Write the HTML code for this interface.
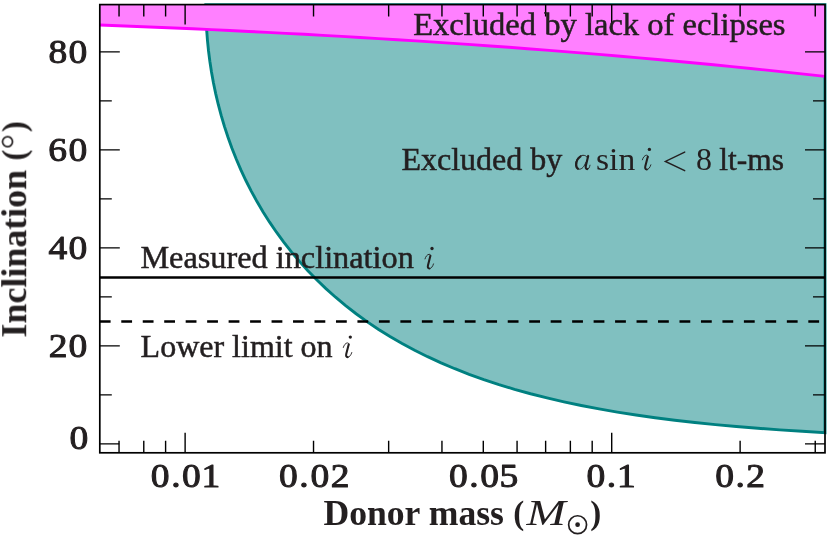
<!DOCTYPE html>
<html><head><meta charset="utf-8"><title>Inclination vs donor mass</title>
<style>
html,body{margin:0;padding:0;background:#fff;}
svg{display:block;}
text{font-family:"Liberation Serif",serif;fill:#231f20;}
</style></head>
<body>
<svg width="830" height="538" viewBox="0 0 830 538">
<defs>
<g id="gI" fill="none" stroke="#231f20" stroke-linecap="round" stroke-linejoin="round">
<circle cx="350.3" cy="337.1" r="1.65" fill="#231f20" stroke="none"/>
<path d="M343.3 347.5 C343.9 345.2 345.6 342.9 347.5 342.9 C348.7 342.9 349.2 343.8 348.9 345" stroke-width="0.9"/>
<path d="M348.7 344.4 L346.3 353.8 C345.8 355.9 346.3 357.1 347.7 357.1" stroke-width="2.05"/>
<path d="M347.7 357.3 C349.5 357.3 351 355.2 351.8 352.5" stroke-width="0.9"/>
</g>
<g id="gA" fill="none" stroke="#231f20" stroke-linecap="round" stroke-linejoin="round">
<path d="M587.4 157.6 C586.4 155.8 584.8 155.3 583 155.3 C578.8 155.3 575.6 160.2 575.6 164.6 C575.6 167.4 577 169.2 579.3 169.2 C582 169.2 584.5 166.4 585.7 162.6" stroke-width="0.95"/>
<path d="M580.6 156.4 C577.8 158.2 576.2 161.8 576.2 164.8 C576.2 166.6 576.8 168 577.9 168.7" stroke-width="2.2"/>
<path d="M588.2 155.9 L585.9 165.6 C585.4 167.8 585.9 169.1 587.3 169.1" stroke-width="2.1"/>
<path d="M587.3 169.3 C588.7 169.3 589.5 167.5 590 165.2" stroke-width="0.9"/>
</g>
</defs>
<rect x="0" y="0" width="830" height="538" fill="#ffffff"/>
<path d="M205.8 4.6 L205.88 11.06 L206.16 20.39 L206.68 30.21 L207.46 40.34 L208.51 50.72 L209.85 61.26 L211.49 71.95 L213.43 82.73 L215.69 93.59 L218.27 104.49 L221.18 115.43 L224.43 126.37 L228.01 137.29 L231.95 148.18 L236.23 159.03 L240.88 169.81 L245.88 180.51 L251.25 191.11 L256.99 201.59 L263.11 211.95 L269.6 222.17 L276.48 232.23 L283.74 242.13 L291.39 251.84 L299.43 261.35 L307.87 270.66 L316.71 279.75 L325.94 288.61 L335.59 297.23 L345.64 305.61 L356.1 313.73 L366.97 321.58 L378.26 329.16 L389.97 336.47 L402.09 343.49 L414.64 350.23 L427.62 356.68 L441.02 362.85 L454.86 368.72 L469.12 374.3 L483.82 379.59 L498.96 384.6 L514.54 389.32 L530.55 393.77 L547.01 397.95 L563.92 401.86 L581.27 405.51 L599.07 408.91 L617.32 412.07 L636.02 415 L655.18 417.7 L674.79 420.2 L694.86 422.49 L715.39 424.59 L736.38 426.5 L757.84 428.25 L779.76 429.84 L802.15 431.28 L825 432.59 L825 4.6 L205.8 4.6 Z" fill="#80c0c0" stroke="#008080" stroke-width="2.9" stroke-linejoin="miter"/>
<path d="M99.8 24.95 L118.39 25.68 L136.99 26.43 L155.58 27.2 L174.18 28 L192.77 28.82 L211.37 29.67 L229.96 30.55 L248.56 31.45 L267.15 32.38 L285.75 33.34 L304.34 34.32 L322.94 35.34 L341.53 36.39 L360.13 37.47 L378.72 38.58 L397.32 39.72 L415.91 40.89 L434.51 42.1 L453.1 43.35 L471.7 44.63 L490.29 45.94 L508.89 47.3 L527.48 48.69 L546.08 50.11 L564.67 51.58 L583.27 53.08 L601.86 54.63 L620.46 56.21 L639.05 57.84 L657.65 59.5 L676.24 61.21 L694.84 62.96 L713.43 64.75 L732.03 66.59 L750.62 68.46 L769.22 70.38 L787.81 72.34 L806.41 74.35 L825 76.4 L825 4.6 L99.8 4.6 Z" fill="#ff80ff" stroke="none"/>
<path d="M99.8 24.95 L118.39 25.68 L136.99 26.43 L155.58 27.2 L174.18 28 L192.77 28.82 L211.37 29.67 L229.96 30.55 L248.56 31.45 L267.15 32.38 L285.75 33.34 L304.34 34.32 L322.94 35.34 L341.53 36.39 L360.13 37.47 L378.72 38.58 L397.32 39.72 L415.91 40.89 L434.51 42.1 L453.1 43.35 L471.7 44.63 L490.29 45.94 L508.89 47.3 L527.48 48.69 L546.08 50.11 L564.67 51.58 L583.27 53.08 L601.86 54.63 L620.46 56.21 L639.05 57.84 L657.65 59.5 L676.24 61.21 L694.84 62.96 L713.43 64.75 L732.03 66.59 L750.62 68.46 L769.22 70.38 L787.81 72.34 L806.41 74.35 L825 76.4" fill="none" stroke="#ff00ff" stroke-width="2.9"/>
<line x1="99.8" y1="277.4" x2="825" y2="277.4" stroke="#000" stroke-width="2.5"/>
<line x1="99.8" y1="321.4" x2="825" y2="321.4" stroke="#000" stroke-width="2.5" stroke-dasharray="10.8 10.67"/>
<path d="M119.04 4.6 v12 M119.04 452.8 v-12 M143.78 4.6 v12 M143.78 452.8 v-12 M165.6 4.6 v12 M165.6 452.8 v-12 M185.12 4.6 v20 M185.12 452.8 v-20 M313.53 4.6 v12 M313.53 452.8 v-12 M388.65 4.6 v12 M388.65 452.8 v-12 M441.95 4.6 v12 M441.95 452.8 v-12 M483.29 4.6 v12 M483.29 452.8 v-12 M517.07 4.6 v12 M517.07 452.8 v-12 M545.63 4.6 v12 M545.63 452.8 v-12 M570.37 4.6 v12 M570.37 452.8 v-12 M592.19 4.6 v12 M592.19 452.8 v-12 M611.71 4.6 v20 M611.71 452.8 v-20 M740.12 4.6 v12 M740.12 452.8 v-12 M815.24 4.6 v12 M815.24 452.8 v-12 M99.8 443.9 h20 M825 443.9 h-20 M99.8 394.9 h12 M825 394.9 h-12 M99.8 345.9 h20 M825 345.9 h-20 M99.8 296.9 h12 M825 296.9 h-12 M99.8 247.9 h20 M825 247.9 h-20 M99.8 198.9 h12 M825 198.9 h-12 M99.8 149.9 h20 M825 149.9 h-20 M99.8 100.9 h12 M825 100.9 h-12 M99.8 51.9 h20 M825 51.9 h-20" fill="none" stroke="#000" stroke-width="1.4"/>
<rect x="99.8" y="4.6" width="725.2" height="448.2" fill="none" stroke="#000" stroke-width="1.7"/>
<g opacity="0.999">
<g stroke="#231f20" stroke-width="0.5">
<text x="413.2" y="34.6" font-size="32" font-weight="normal" font-style="normal" text-anchor="start" textLength="372.3" lengthAdjust="spacingAndGlyphs">Excluded by lack of eclipses</text>
<text x="401.4" y="169.7" font-size="32" font-weight="normal" font-style="normal" text-anchor="start" textLength="160.8" lengthAdjust="spacingAndGlyphs">Excluded by</text>
</g>
<use href="#gA" x="0" y="0"/>
<text x="596" y="169.7" font-size="32" font-weight="normal" font-style="normal" text-anchor="start" textLength="39.2" lengthAdjust="spacingAndGlyphs">sin</text>
<use href="#gI" x="299.07" y="-187.7"/>
<path d="M684.7 152.1 L665.4 161.4 L684.7 170.7" fill="none" stroke="#231f20" stroke-width="1.45" stroke-linejoin="miter" stroke-linecap="round"/>
<text x="696" y="169.7" font-size="32" font-weight="normal" font-style="normal" text-anchor="start" textLength="16" lengthAdjust="spacingAndGlyphs">8</text>
<g stroke="#231f20" stroke-width="0.5">
<text x="719.3" y="169.7" font-size="32" font-weight="normal" font-style="normal" text-anchor="start" textLength="64.6" lengthAdjust="spacingAndGlyphs">lt-ms</text>
<text x="140.4" y="268.2" font-size="32" font-weight="normal" font-style="normal" text-anchor="start" textLength="273.4" lengthAdjust="spacingAndGlyphs">Measured inclination</text>
<use href="#gI" x="81.7" y="-88.6"/>
<text x="140.6" y="357" font-size="32" font-weight="normal" font-style="normal" text-anchor="start" textLength="192" lengthAdjust="spacingAndGlyphs">Lower limit on</text>
<use href="#gI" x="0" y="0"/>
</g>
<g transform="scale(1.1025 1)"><text x="136.85 155.39 165.15 182.86" y="487" font-size="34.0" stroke="#231f20" stroke-width="1.0" stroke-linejoin="round">0.01</text>
<text x="253.02 271.49 281.66 300.08" y="487" font-size="34.0" stroke="#231f20" stroke-width="1.0" stroke-linejoin="round">0.02</text>
<text x="407.21 425.68 435.58 453.08" y="487" font-size="34.0" stroke="#231f20" stroke-width="1.0" stroke-linejoin="round">0.05</text>
<text x="532.03 550.4 559.73" y="487" font-size="34.0" stroke="#231f20" stroke-width="1.0" stroke-linejoin="round">0.1</text>
<text x="648.71 667.04 676.86" y="487" font-size="34.0" stroke="#231f20" stroke-width="1.0" stroke-linejoin="round">0.2</text>
<text x="43.97 62.2" y="63.05" font-size="34.0" stroke="#231f20" stroke-width="1.0" stroke-linejoin="round">80</text>
<text x="43.75 62.2" y="161.05" font-size="34.0" stroke="#231f20" stroke-width="1.0" stroke-linejoin="round">60</text>
<text x="43.9 62.2" y="259.05" font-size="34.0" stroke="#231f20" stroke-width="1.0" stroke-linejoin="round">40</text>
<text x="44.16 62.2" y="357.05" font-size="34.0" stroke="#231f20" stroke-width="1.0" stroke-linejoin="round">20</text>
<text x="63.02" y="449.35" font-size="34.0" stroke="#231f20" stroke-width="1.0" stroke-linejoin="round">0</text></g>
<text x="323.4" y="525.1" font-size="35" font-weight="bold" font-style="normal" text-anchor="start" textLength="180.6" lengthAdjust="spacingAndGlyphs">Donor mass</text>
<text x="513.2" y="523.8" font-size="33" font-weight="bold" font-style="normal" text-anchor="start">(</text>
<text x="526.5" y="524.8" font-size="36" font-weight="normal" font-style="italic" text-anchor="start" textLength="39.3" lengthAdjust="spacingAndGlyphs">M</text>
<text x="590.3" y="523.8" font-size="33" font-weight="bold" font-style="normal" text-anchor="start">)</text>
<circle cx="577.6" cy="524.7" r="8.95" fill="none" stroke="#231f20" stroke-width="1.7"/><circle cx="577.6" cy="524.7" r="2.35" fill="#231f20"/>
<g transform="translate(26.2 337.6) rotate(-90)"><text x="0" y="0" font-size="35" font-weight="bold" font-style="normal" text-anchor="start" textLength="167.8" lengthAdjust="spacingAndGlyphs">Inclination</text><text x="177" y="-1.5" font-size="33" font-weight="bold" font-style="normal" text-anchor="start">(</text><text x="205.4" y="-1.5" font-size="33" font-weight="bold" font-style="normal" text-anchor="start">)</text><circle cx="195.9" cy="-18.6" r="5.0" fill="none" stroke="#231f20" stroke-width="1.7"/></g>
</g>
</svg>
</body></html>
